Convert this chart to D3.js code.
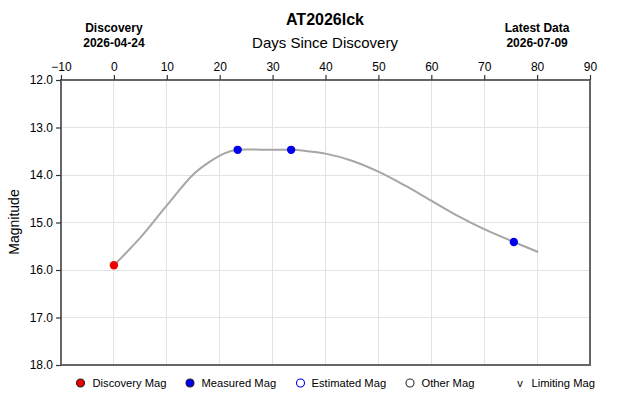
<!DOCTYPE html>
<html><head><meta charset="utf-8">
<script src="https://cdn.jsdelivr.net/npm/d3@7"></script>
<style>body{margin:0;background:#fff;}svg{display:block;font-family:"Liberation Sans",Arial,sans-serif;}</style>
</head><body><svg id="c" width="630" height="405"></svg>
<script>
const title = "AT2026lck";
const xTicks = [-10,0,10,20,30,40,50,60,70,80,90];
const yTicks = [12,13,14,15,16,17,18];
// fitted light curve (days, mag)
const curveDays = [0,5,10,15,18,21,23.4,28.5,33.5,36,40,45,50,55,60,65,70,75.6,80.2];
const curveMags = [15.9,15.32,14.64,13.99,13.73,13.54,13.47,13.47,13.47,13.49,13.55,13.7,13.93,14.22,14.54,14.86,15.14,15.41,15.62];
const discDays = [0];
const discMags = [15.9];
const measDays = [23.4,33.5,75.6];
const measMags = [13.47,13.47,15.41];
const legendLabels = ["Discovery Mag","Measured Mag","Estimated Mag","Other Mag","Limiting Mag"];

const svg = d3.select("#c");
const L=61,R=590,T=80,B=365;
const x = d3.scaleLinear().domain([-10,90]).range([L,R]);
const y = d3.scaleLinear().domain([12,18]).range([T,B]);

// grid
svg.append("g").selectAll("line").data(xTicks.slice(1,-1)).join("line")
  .attr("x1",d=>x(d)).attr("x2",d=>x(d)).attr("y1",T).attr("y2",B)
  .attr("stroke","#e3e3e3").attr("stroke-width",1).attr("shape-rendering","crispEdges");
svg.append("g").selectAll("line").data(yTicks.slice(1,-1)).join("line")
  .attr("x1",L).attr("x2",R).attr("y1",d=>y(d)).attr("y2",d=>y(d))
  .attr("stroke","#e3e3e3").attr("stroke-width",1).attr("shape-rendering","crispEdges");

// frame
svg.append("rect").attr("x",L).attr("y",T).attr("width",R-L).attr("height",B-T)
  .attr("fill","none").attr("stroke","#666").attr("stroke-width",1.5).attr("shape-rendering","crispEdges");

// axes
const topAxis = svg.append("g").attr("transform",`translate(0,${T})`)
  .call(d3.axisTop(x).tickValues(xTicks).tickSize(5).tickFormat(d3.format("d")));
const leftAxis = svg.append("g").attr("transform",`translate(${L},0)`)
  .call(d3.axisLeft(y).tickValues(yTicks).tickSize(5).tickFormat(d3.format(".1f")));
[topAxis,leftAxis].forEach(g=>{
  g.select(".domain").remove();
  g.selectAll(".tick line").attr("stroke","#333").attr("stroke-width",1.2);
  g.selectAll(".tick text").attr("font-size",12).attr("fill","#000")
   .attr("font-family","'Liberation Sans',Arial,sans-serif");
});
topAxis.selectAll(".tick text").attr("dy","-0.1em");

// curve
const pts = curveDays.map((d,i)=>[d,curveMags[i]]);
svg.append("path").datum(pts)
  .attr("d",d3.line().x(d=>x(d[0])).y(d=>y(d[1])).curve(d3.curveCatmullRom.alpha(0.5)))
  .attr("fill","none").attr("stroke","#a6a6a6").attr("stroke-width",2);

// points
svg.append("g").selectAll("circle").data(measDays.map((d,i)=>[d,measMags[i]])).join("circle")
  .attr("cx",d=>x(d[0])).attr("cy",d=>y(d[1])).attr("r",4.2).attr("fill","#0000ee");
svg.append("g").selectAll("circle").data(discDays.map((d,i)=>[d,discMags[i]])).join("circle")
  .attr("cx",d=>x(d[0])).attr("cy",d=>y(d[1])).attr("r",4.2).attr("fill","#ee0000");

// titles
svg.append("text").attr("x",325).attr("y",25).attr("text-anchor","middle")
  .attr("font-size",16).attr("font-weight","bold").text(title);
svg.append("text").attr("x",325).attr("y",48).attr("text-anchor","middle")
  .attr("font-size",15).text("Days Since Discovery");
const side = [[0,"Discovery","2026-04-24"],[80,"Latest Data","2026-07-09"]];
side.forEach(s=>{
  svg.append("text").attr("x",x(s[0])).attr("y",32).attr("text-anchor","middle")
    .attr("font-size",12).attr("font-weight","bold").text(s[1]);
  svg.append("text").attr("x",x(s[0])).attr("y",47).attr("text-anchor","middle")
    .attr("font-size",12).attr("font-weight","bold").text(s[2]);
});
svg.append("text").attr("transform","translate(19,222) rotate(-90)").attr("text-anchor","middle")
  .attr("font-size",14).text("Magnitude");

// legend
const ly = 383;
const lg = svg.append("g").attr("font-size",11.2);
const sym = [
  {cx:80.5, fill:"#ee0000", stroke:"#222"},
  {cx:190, fill:"#0000ee", stroke:"#222"},
  {cx:300.5, fill:"none", stroke:"#0000ee"},
  {cx:410, fill:"none", stroke:"#333"}
];
const textX = [92.5,201.5,311.5,421.5,531.5];
sym.forEach(s=>{
  lg.append("circle").attr("cx",s.cx).attr("cy",ly).attr("r",4)
    .attr("fill",s.fill).attr("stroke",s.stroke).attr("stroke-width",1.1);
});
lg.append("text").attr("x",520).attr("y",ly+4).attr("text-anchor","middle").attr("font-size",11).text("v");
legendLabels.forEach((t,i)=>{
  lg.append("text").attr("x",textX[i]).attr("y",ly+4).attr("fill","#000").text(t);
});
</script></body></html>
